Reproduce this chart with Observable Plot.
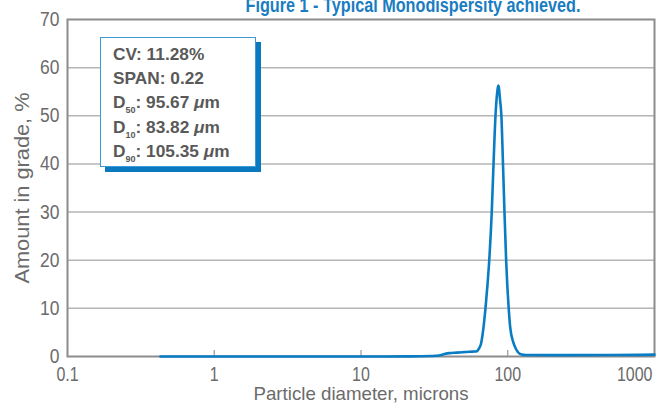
<!DOCTYPE html>
<html>
<head>
<meta charset="utf-8">
<script src="https://cdn.jsdelivr.net/npm/d3@7"></script>
<script src="https://cdn.jsdelivr.net/npm/@observablehq/plot@0.6"></script>
<style>
  body { margin: 0; background: #fff; }
  #wrap { position: relative; width: 666px; height: 403px; overflow: hidden; font-family: "Liberation Sans", Arial, sans-serif; }
  #stats { position: absolute; left: 100px; top: 37px; width: 154px; height: 124px; border: 1px solid #3d9ad6; background: #fff; box-shadow: 5px 5px 0 #0a79c0; color: #595959; font-weight: bold; font-size: 17.3px; padding-top: 4px; box-sizing: content-box; }
  #stats .row { height: 24.2px; line-height: 24.2px; padding-left: 12px; white-space: nowrap; }
  #stats .sub { font-size: 9px; position: relative; top: 5px; line-height: 0; }
</style>
</head>
<body>
<div id="wrap"></div>
<script>
// Particle diameter (microns) and amount in grade (%)
const diameter = [0.43, 1, 5, 10, 15, 20, 25, 30, 34, 37, 40, 45, 50, 55, 60, 61.5, 63.5, 65.8, 68, 70.5, 72.8, 74.8, 77.8, 80, 82.5, 84.5, 85.5, 86.3, 87.2, 88.5, 90.5, 92.8, 95, 97.5, 101.5, 104, 109, 114, 119, 125, 132, 200, 500, 1000];
const amount   = [0,    0, 0, 0,  0,  0.02, 0.05, 0.1, 0.2, 0.5, 0.7, 0.8, 0.9, 1.0, 1.05, 1.1, 1.6, 2.7, 5.5, 10, 15, 20, 30, 40, 50, 54.5, 55.8, 56.3, 55.6, 53.5, 50, 40, 30, 20, 10, 6, 3, 1.5, 0.7, 0.4, 0.3, 0.28, 0.3, 0.38];

const xTicks = [0.1, 1, 10, 100, 1000];
const yTicks = [0, 10, 20, 30, 40, 50, 60, 70];
const gridValues = [10, 20, 30, 40, 50, 60];
const innerXTicks = [1, 10, 100];

const title = "Figure 1 - Typical Monodispersity achieved.";
const xLabel = "Particle diameter, microns";
const yLabel = "Amount in grade, %";

const statNames  = ["CV", "SPAN", "D", "D", "D"];
const statSubs   = ["", "", "50", "10", "90"];
const statValues = ["11.28%", "0.22", "95.67", "83.82", "105.35"];
const statUnits  = ["", "", "μm", "μm", "μm"];

const data = diameter.map((d, i) => ({d, a: amount[i]}));
const fontFamily = "'Liberation Sans', Arial, sans-serif";

const chart = Plot.plot({
  width: 666,
  height: 403,
  marginTop: 19,
  marginBottom: 47,
  marginLeft: 67,
  marginRight: 12,
  style: {fontFamily, fontSize: "18px", color: "#666", background: "#fff", overflow: "visible"},
  x: {type: "log", domain: [0.1, 1000]},
  y: {domain: [0, 70]},
  marks: [
    Plot.ruleY(gridValues, {stroke: "#b5b5b5", strokeWidth: 1.5}),
    Plot.ruleX(innerXTicks, {y1: 0, y2: 0, insetTop: 0, insetBottom: 6, stroke: "#999", strokeWidth: 1.2}),
    Plot.frame({stroke: "#8c8c8c", strokeWidth: 2}),
    Plot.axisY(yTicks, {tickSize: 0, tickPadding: 8, label: null, fill: "#6b6b6b", fontSize: 20.5}),
    Plot.axisX(xTicks.slice(0, 4), {tickSize: 0, tickPadding: 11, label: null, fill: "#6b6b6b", fontSize: 19.5, tickFormat: d => String(d)}),
    Plot.axisX(xTicks.slice(4), {tickSize: 0, tickPadding: 11, label: null, fill: "#6b6b6b", fontSize: 19.5, textAnchor: "end", dx: -2, tickFormat: d => String(d)}),
    Plot.line(data, {x: "d", y: "a", stroke: "#0a7cc3", strokeWidth: 2.6, curve: "monotone-x"}),
    Plot.text([yLabel], {frameAnchor: "left", rotate: -90, dx: -45, fill: "#6b6b6b", fontSize: 20, textAnchor: "middle", lineAnchor: "middle"}),
    Plot.text([xLabel], {frameAnchor: "bottom", dy: 43, fill: "#6b6b6b", fontSize: 18.5}),
    Plot.text([title], {frameAnchor: "top", lineAnchor: "top", dx: 52, dy: -21.7, fill: "#1a7dc1", fontSize: 20, fontWeight: "bold"})
  ]
});

const wrap = document.getElementById("wrap");
wrap.appendChild(chart);

// condense glyphs to mimic the condensed face of the original
function squeeze(t, factor) {
  const w = t.getComputedTextLength();
  t.setAttribute("textLength", (w * factor).toFixed(1));
  t.setAttribute("lengthAdjust", "spacingAndGlyphs");
}
chart.querySelectorAll('g[aria-label="x-axis tick label"] text').forEach(t => squeeze(t, 0.82));
chart.querySelectorAll('g[aria-label="y-axis tick label"] text').forEach(t => squeeze(t, 0.85));
chart.querySelectorAll("text").forEach(t => {
  const s = t.textContent;
  if (s === title) { t.setAttribute("textLength", "335"); t.setAttribute("lengthAdjust", "spacingAndGlyphs"); }
  if (s === yLabel) { t.setAttribute("textLength", "191"); t.setAttribute("lengthAdjust", "spacingAndGlyphs"); }
  if (s === xLabel) { t.setAttribute("textLength", "215"); t.setAttribute("lengthAdjust", "spacingAndGlyphs"); }
});

const box = document.createElement("div");
box.id = "stats";
statNames.forEach((name, i) => {
  const row = document.createElement("div");
  row.className = "row";
  let html = name;
  if (statSubs[i]) html += `<span class="sub">${statSubs[i]}</span>`;
  html += ": " + statValues[i];
  if (statUnits[i]) html += ` <i>${statUnits[i][0]}</i>${statUnits[i].slice(1)}`;
  row.innerHTML = html;
  box.appendChild(row);
});
wrap.appendChild(box);
</script>
</body>
</html>
